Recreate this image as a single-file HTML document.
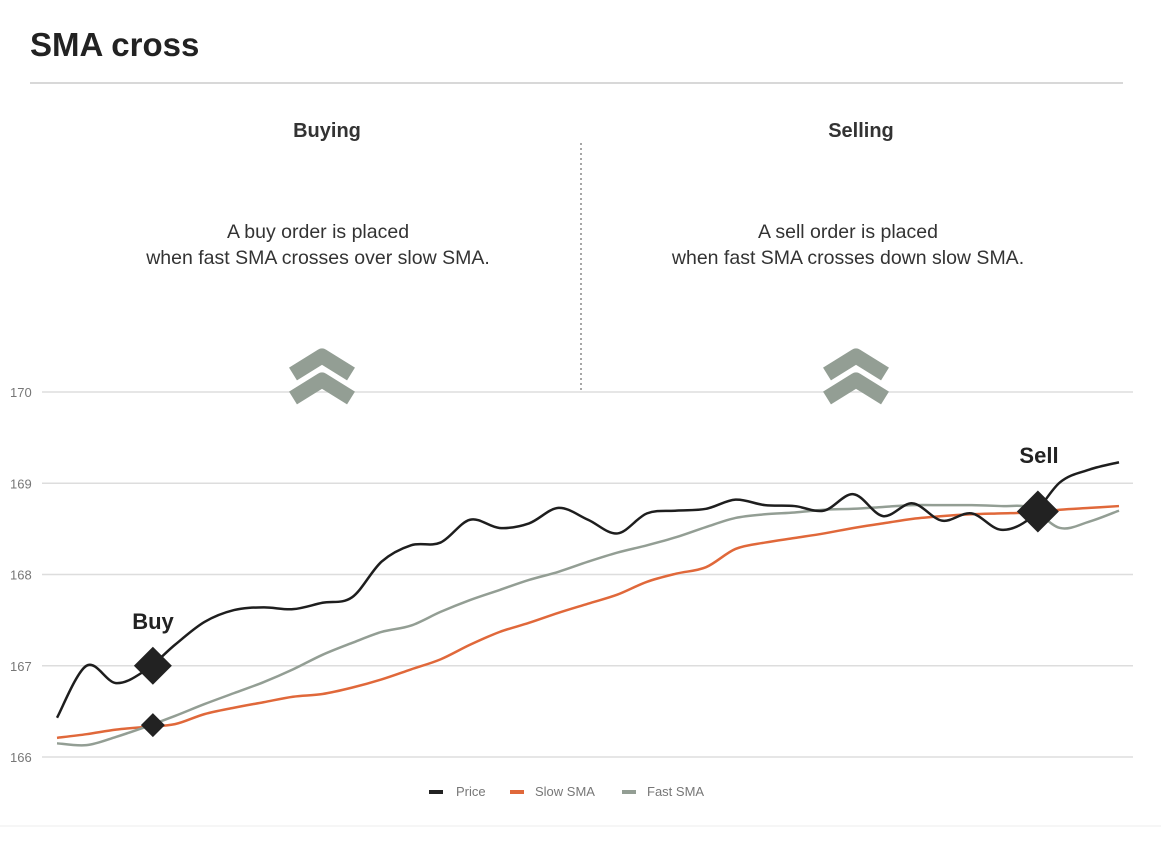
<!DOCTYPE html>
<html><head><meta charset="utf-8"><style>
body{margin:0;background:#fff;}
svg{display:block;font-family:"Liberation Sans",sans-serif;}
</style></head><body>
<svg id="chart" width="1161" height="841" viewBox="0 0 1161 841">
<text x="30" y="56" font-size="33" font-weight="bold" fill="#222">SMA cross</text>
<line x1="30" y1="83" x2="1123" y2="83" stroke="#ccc" stroke-width="1.5"/>
<text x="327" y="137" font-size="20" font-weight="bold" fill="#333" text-anchor="middle">Buying</text>
<text x="861" y="137" font-size="20" font-weight="bold" fill="#333" text-anchor="middle">Selling</text>
<line x1="581" y1="143" x2="581" y2="392" stroke="#888" stroke-width="1.5" stroke-dasharray="2,3"/>
<g font-size="19.5" fill="#333" text-anchor="middle">
<text x="318" y="238">A buy order is placed</text>
<text x="318" y="264">when fast SMA crosses over slow SMA.</text></g>
<g font-size="19.5" fill="#333" text-anchor="middle">
<text x="848" y="238">A sell order is placed</text>
<text x="848" y="264">when fast SMA crosses down slow SMA.</text></g>
<g id="grid"></g>
<g fill="none" stroke="#939e94" stroke-width="15" stroke-linejoin="round">
<path d="M293 374 L322 356 L351 374"/><path d="M293 398 L322 380 L351 398"/></g>
<g fill="none" stroke="#939e94" stroke-width="15" stroke-linejoin="round">
<path d="M827 374 L856 356 L885 374"/><path d="M827 398 L856 380 L885 398"/></g>
<g id="series"></g>
<g id="markers"></g>
<text x="153" y="629" font-size="22" font-weight="bold" fill="#222" text-anchor="middle">Buy</text>
<text x="1039" y="463" font-size="22" font-weight="bold" fill="#222" text-anchor="middle">Sell</text>
<g font-size="13" fill="#777">
<rect x="429" y="790" width="14" height="4" fill="#222"/>
<text x="456" y="796">Price</text>
<rect x="510" y="790" width="14" height="4" fill="#e0683a"/>
<text x="535" y="796">Slow SMA</text>
<rect x="622" y="790" width="14" height="4" fill="#939e94"/>
<text x="647" y="796">Fast SMA</text>
</g>
<line x1="0" y1="826" x2="1161" y2="826" stroke="#eee" stroke-width="1"/>
</svg>
<script>
const yTicks = [166, 167, 168, 169, 170];
const price = [166.43,167.00,166.81,166.95,167.23,167.48,167.61,167.64,167.62,167.69,167.75,168.14,168.32,168.35,168.60,168.51,168.56,168.73,168.60,168.45,168.67,168.70,168.72,168.82,168.76,168.75,168.70,168.88,168.64,168.78,168.59,168.67,168.49,168.62,169.01,169.15,169.23];
const slowSma = [166.21,166.25,166.30,166.33,166.36,166.47,166.54,166.60,166.66,166.69,166.76,166.85,166.96,167.07,167.23,167.37,167.47,167.58,167.68,167.78,167.92,168.01,168.08,168.28,168.35,168.40,168.45,168.51,168.56,168.61,168.64,168.66,168.67,168.68,168.71,168.73,168.75];
const fastSma = [166.15,166.13,166.22,166.33,166.45,166.58,166.70,166.82,166.96,167.12,167.25,167.37,167.44,167.59,167.72,167.83,167.94,168.03,168.14,168.24,168.32,168.41,168.52,168.62,168.66,168.68,168.71,168.72,168.74,168.76,168.76,168.76,168.75,168.73,168.51,168.58,168.70];
const buyIndex = 3.25, buyPrice = 167.0, buyCross = 166.35;
const sellIndex = 33.25, sellPrice = 168.69;

const NS = "http://www.w3.org/2000/svg";
const x0 = 57, x1 = 1119, yTop = 392, yBot = 757, vMin = 166, vMax = 170;
function xScale(i){ return x0 + i * (x1 - x0) / (price.length - 1); }
function yScale(v){ return yBot - (v - vMin) * (yBot - yTop) / (vMax - vMin); }

const grid = document.getElementById('grid');
yTicks.forEach(t => {
  const l = document.createElementNS(NS, 'line');
  l.setAttribute('x1', 42); l.setAttribute('x2', 1133);
  l.setAttribute('y1', yScale(t)); l.setAttribute('y2', yScale(t));
  l.setAttribute('stroke', '#ddd'); l.setAttribute('stroke-width', '1.5');
  
  
  grid.appendChild(l);
  const tx = document.createElementNS(NS, 'text');
  tx.setAttribute('x', 10); tx.setAttribute('y', yScale(t) + 5);
  tx.setAttribute('font-size', '13'); tx.setAttribute('fill', '#777');
  tx.textContent = t;
  
  
  grid.appendChild(tx);
});

function smooth(vals){
  const p = vals.map((v, i) => [xScale(i), yScale(v)]);
  let d = 'M' + p[0][0] + ' ' + p[0][1];
  for (let i = 0; i < p.length - 1; i++) {
    const a = p[Math.max(0, i - 1)], b = p[i], c = p[i + 1], e = p[Math.min(p.length - 1, i + 2)];
    const c1x = b[0] + (c[0] - a[0]) / 6, c1y = b[1] + (c[1] - a[1]) / 6;
    const c2x = c[0] - (e[0] - b[0]) / 6, c2y = c[1] - (e[1] - b[1]) / 6;
    d += ' C' + c1x + ' ' + c1y + ' ' + c2x + ' ' + c2y + ' ' + c[0] + ' ' + c[1];
  }
  return d;
}
const sg = document.getElementById('series');
[[slowSma, '#e0683a', 'slow-sma-line'], [fastSma, '#939e94', 'fast-sma-line'], [price, '#1e1e1e', 'price-line']].forEach(s => {
  const p = document.createElementNS(NS, 'path');
  p.setAttribute('d', smooth(s[0]));
  p.setAttribute('fill', 'none'); p.setAttribute('stroke', s[1]); p.setAttribute('stroke-width', '2.5');
  
  
  sg.appendChild(p);
});
const mg = document.getElementById('markers');
[[buyIndex, buyPrice, 19, 'buy-marker'], [buyIndex, buyCross, 12, 'buy-cross-marker'], [sellIndex, sellPrice, 21, 'sell-marker']].forEach(m => {
  const cx = xScale(m[0]), cy = yScale(m[1]), r = m[2];
  const d = document.createElementNS(NS, 'polygon');
  d.setAttribute('points', `${cx},${cy - r} ${cx + r},${cy} ${cx},${cy + r} ${cx - r},${cy}`);
  d.setAttribute('fill', '#222');
  
  
  mg.appendChild(d);
});
</script>
</body></html>
